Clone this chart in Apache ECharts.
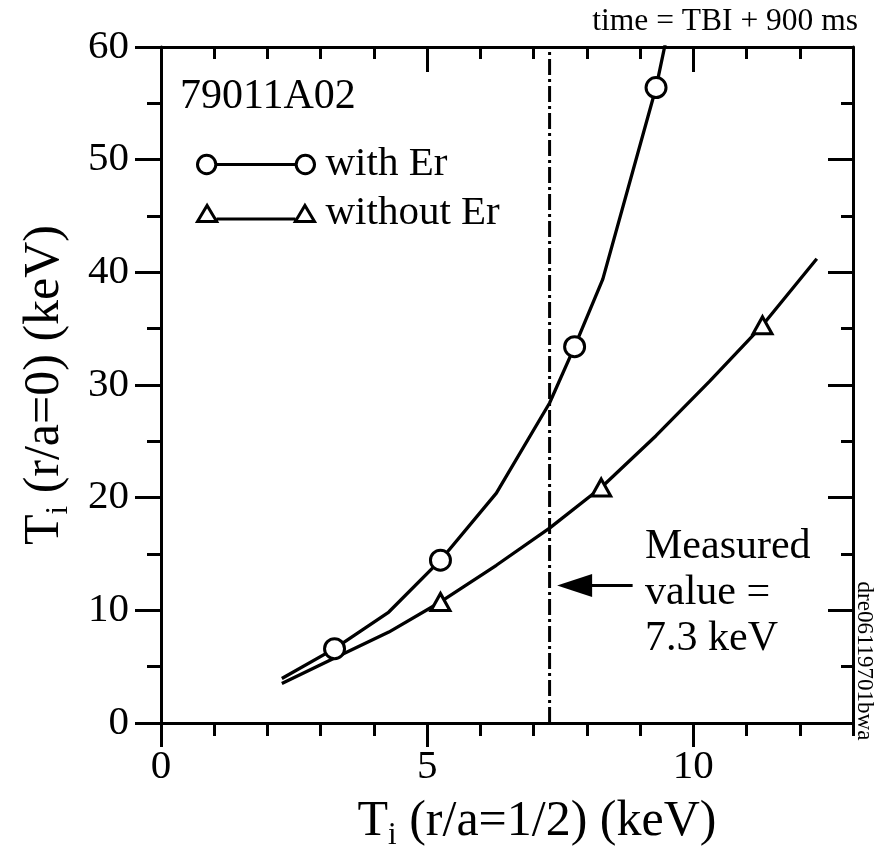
<!DOCTYPE html>
<html>
<head>
<meta charset="utf-8">
<script src="https://cdn.jsdelivr.net/npm/echarts@6/dist/echarts.min.js"></script>
<style>html,body{margin:0;padding:0;background:#fff;}#c{width:880px;height:863px;}</style>
</head>
<body>
<div id="c"></div>
<script>
// ---- data ----
const withErX = [2.27, 3.26, 4.28, 5.25, 6.3, 7.3, 7.77, 8.3, 9.3, 10.2];
const withErY = [3.95, 6.6, 9.85, 14.45, 20.4, 28.4, 33.4, 39.4, 56.4, 76.6];
const withErMarked = [1, 3, 6, 8];
const withoutErX = [2.27, 3.3, 4.28, 5.25, 6.3, 7.3, 8.27, 9.3, 10.3, 11.3, 12.32];
const withoutErY = [3.5, 5.85, 8.07, 10.74, 14.0, 17.3, 20.9, 25.5, 30.3, 35.3, 41.2];
const withoutErMarked = [3, 6, 9];
const measuredValue = 7.3;
const arrowY = 12.2;
const arrowFromX = 8.86;
const arrowToX = 7.77;
const xMajorTicks = [0, 5, 10];
const xRange = [0, 13];
const yRange = [0, 60];
const seriesNames = ['with Er', 'without Er'];

// ---- styles ----
const SERIF = '"Liberation Serif", "Times New Roman", serif';
const BLACK = '#000';
const lw = 3;
const labelFont = { fontFamily: SERIF, fontSize: 41, color: BLACK };

function mkData(xs, ys, marked, sym, size) {
  return xs.map((x, i) => ({
    value: [x, ys[i]],
    symbol: marked.indexOf(i) >= 0 ? sym : 'none',
    symbolSize: size
  }));
}

const titleRich = {
  t: { fontFamily: SERIF, fontSize: 50, lineHeight: 52, color: BLACK },
  s: { fontFamily: SERIF, fontSize: 31, lineHeight: 31, padding: [27, 0, 0, 0], color: BLACK }
};

function baseX(extra) {
  return Object.assign({
    type: 'value', min: xRange[0], max: xRange[1],
    splitLine: { show: false },
    axisLabel: { show: false },
    axisLine: { show: false, onZero: false, lineStyle: { color: BLACK, width: lw } }
  }, extra);
}
function baseY(extra) {
  return Object.assign({
    type: 'value', min: yRange[0], max: yRange[1],
    splitLine: { show: false },
    axisLabel: { show: false },
    axisLine: { show: false, onZero: false, lineStyle: { color: BLACK, width: lw } }
  }, extra);
}

const circPath = 'path://M1,10 A9,9 0 1,0 19,10 A9,9 0 1,0 1,10 Z M19,10 L98,10 M98,10 A9,9 0 1,0 116,10 A9,9 0 1,0 98,10 Z';
const triPath = 'path://M0.5,17 L10,1 L19.5,17 Z M19.5,14.5 L97.5,14.5 M97.5,17 L107,1 L116.5,17 Z';

const option = {
  backgroundColor: '#fff',
  animation: false,
  grid: { left: 161, right: 27, top: 47, bottom: 140 },
  xAxis: [
    baseX({ position: 'bottom', interval: 1,
      axisLine: { show: true, onZero: false, lineStyle: { color: BLACK, width: lw } },
      axisTick: { show: true, length: 13, lineStyle: { color: BLACK, width: lw } } }),
    baseX({ position: 'bottom',
      axisTick: { show: true, length: 24, customValues: xMajorTicks, lineStyle: { color: BLACK, width: lw } },
      axisLabel: Object.assign({ show: true, customValues: xMajorTicks, margin: 24 }, labelFont),
      name: '{t|T}{s|i}{t| (r/a=1/2) (keV)}', nameLocation: 'middle', nameGap: 52,
      nameTextStyle: { rich: titleRich, padding: [0, 0, 0, 60] } }),
    baseX({ position: 'top', interval: 1,
      axisLine: { show: true, onZero: false, lineStyle: { color: BLACK, width: lw } },
      axisTick: { show: true, inside: true, length: 12, lineStyle: { color: BLACK, width: lw } } }),
    baseX({ position: 'top',
      axisTick: { show: true, inside: true, length: 25, customValues: xMajorTicks, lineStyle: { color: BLACK, width: lw } } })
  ],
  yAxis: [
    baseY({ position: 'left', interval: 10,
      axisLine: { show: true, onZero: false, lineStyle: { color: BLACK, width: lw } },
      axisTick: { show: true, length: 26, lineStyle: { color: BLACK, width: lw } },
      axisLabel: Object.assign({ show: true, margin: 32 }, labelFont),
      name: '{t|T}{s|i}{t| (r/a=0) (keV)}', nameLocation: 'middle', nameGap: 90, nameRotate: 90,
      nameTextStyle: { rich: titleRich } }),
    baseY({ position: 'left', interval: 5,
      axisTick: { show: true, length: 14, lineStyle: { color: BLACK, width: lw } } }),
    baseY({ position: 'right', interval: 5,
      axisLine: { show: true, onZero: false, lineStyle: { color: BLACK, width: lw } },
      axisTick: { show: true, inside: true, length: 12, lineStyle: { color: BLACK, width: lw } } }),
    baseY({ position: 'right', interval: 10,
      axisTick: { show: true, inside: true, length: 25, lineStyle: { color: BLACK, width: lw } } })
  ],
  legend: {
    orient: 'vertical', left: 191, top: 139, itemGap: 8,
    itemWidth: 117, itemHeight: 19, selectedMode: false,
    textStyle: { fontFamily: SERIF, fontSize: 41, lineHeight: 40, color: BLACK, padding: [0, 0, 0, 6] },
    data: [
      { name: seriesNames[0], icon: circPath, itemStyle: { color: '#fff', borderColor: BLACK, borderWidth: lw } },
      { name: seriesNames[1], icon: triPath, itemStyle: { color: '#fff', borderColor: BLACK, borderWidth: lw } }
    ]
  },
  series: [
    {
      name: seriesNames[0], type: 'line', xAxisIndex: 0, yAxisIndex: 0,
      data: mkData(withErX, withErY, withErMarked, 'circle', 20),
      showAllSymbol: true, clip: true, z: 3,
      lineStyle: { color: BLACK, width: 3.3 },
      itemStyle: { color: '#fff', borderColor: BLACK, borderWidth: lw },
      emphasis: { disabled: true }
    },
    {
      name: seriesNames[1], type: 'line', xAxisIndex: 0, yAxisIndex: 0,
      data: mkData(withoutErX, withoutErY, withoutErMarked, 'triangle', [19, 17]),
      showAllSymbol: true, clip: true, z: 3,
      lineStyle: { color: BLACK, width: 3.3 },
      itemStyle: { color: '#fff', borderColor: BLACK, borderWidth: lw },
      emphasis: { disabled: true }
    },
    {
      name: 'measured', type: 'line', xAxisIndex: 0, yAxisIndex: 0,
      data: [[measuredValue, yRange[0]], [measuredValue, yRange[1]]],
      symbol: 'none', z: 2,
      lineStyle: { color: BLACK, width: 3, type: [16, 4, 3, 4] },
      emphasis: { disabled: true },
      markLine: {
        silent: true, animation: false,
        symbol: ['none', 'triangle'],
        label: { show: false },
        lineStyle: { color: BLACK, width: 3, type: 'solid' },
        itemStyle: { color: BLACK },
        emphasis: { disabled: true },
        data: [[
          { coord: [arrowFromX, arrowY], symbol: 'none' },
          { coord: [arrowToX, arrowY], symbol: 'triangle', symbolSize: [23, 35] }
        ]]
      }
    }
  ],
  graphic: [
    { type: 'text', x: 180, y: 97, style: { text: '79011A02', font: '42px ' + SERIF, fill: BLACK, verticalAlign: 'middle' } },
    { type: 'text', x: 645, y: 524, style: { text: 'Measured\nvalue =\n7.3 keV', font: '42px ' + SERIF, lineHeight: 46, fill: BLACK, verticalAlign: 'top' } },
    { type: 'text', x: 858, y: 22, style: { text: 'time = TBI + 900 ms', font: '31.5px ' + SERIF, fill: BLACK, align: 'right', verticalAlign: 'middle' } },
    { type: 'text', x: 864, y: 661, rotation: -Math.PI / 2, style: { text: 'dre06119701bwa', font: '23px ' + SERIF, fill: BLACK, align: 'center', verticalAlign: 'middle' } }
  ]
};

const chart = echarts.init(document.getElementById('c'), null, { renderer: 'canvas' });
chart.setOption(option);
</script>
</body>
</html>
